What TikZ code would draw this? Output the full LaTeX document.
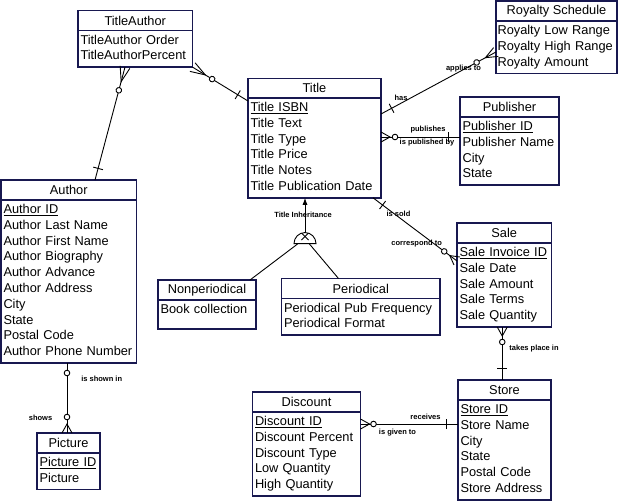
\documentclass[tikz,border=0pt]{standalone}
\usepackage{fontspec}
\setmainfont{Liberation Sans}
\usetikzlibrary{shapes.geometric,decorations.markings,arrows.meta,calc}
\definecolor{entnavy}{RGB}{24,24,80}

\tikzset{
  ent/.style={draw=entnavy, line width=1.6pt, anchor=north west, outer sep=0pt, font=\fontsize{12.8}{15.8}\selectfont},
  enthead/.style={ent, inner sep=0pt, minimum height=20pt},
  entbody/.style={ent, inner xsep=2.5pt, inner ysep=2.5pt, align=left, execute at begin node=\strut, execute at end node=\strut},
  rel/.style={font=\fontsize{7.5}{9}\selectfont\bfseries, inner sep=0pt},
  conn/.style={line width=0.9pt},
  crowfoot/.style={postaction={decorate, decoration={markings, mark=at position 0.01pt with {\draw (0pt,5pt) -- (#1,0pt) -- (0pt,-5pt);}}}},
  crowfoot/.default=9pt,
  zero at/.style={postaction={decorate, decoration={markings, mark=at position #1 with {\draw[fill=white] (0pt,0pt) circle (2.8pt);}}}},
  one at/.style={postaction={decorate, decoration={markings, mark=at position #1 with {\draw (0pt,-5pt) -- (0pt,5pt);}}}},
}

\begin{document}
\begin{tikzpicture}[x=1pt, y=-1pt]
        \useasboundingbox (0,0) rectangle (620,501);
        \node[enthead, minimum width=114.5pt] (taH) at (78,10.5) {TitleAuthor};
        \node[entbody, text width=109.5pt] (ta) at (taH.south west) {TitleAuthor Order\\TitleAuthorPercent};
        \node[enthead, minimum width=133pt, minimum height=19.5pt] (titleH) at (248,78.5) {Title};
        \node[entbody, text width=128pt] (title) at (titleH.south west) {\underline{Title ISBN}\\Title Text\\Title Type\\Title Price\\Title Notes\\Title Publication Date};
        \node[enthead, minimum width=121pt] (royH) at (496,1) {Royalty Schedule};
        \node[entbody, inner xsep=1.5pt, text width=118pt] (roy) at (royH.south west) {Royalty Low Range\\Royalty High Range\\Royalty Amount};
        \node[enthead, minimum width=99pt] (pubH) at (460,97) {Publisher};
        \node[entbody, text width=94pt] (pub) at (pubH.south west) {\underline{Publisher ID}\\Publisher Name\\City\\State};
        \node[enthead, minimum width=135.5pt] (authH) at (1,180) {Author};
        \node[entbody, text width=130.5pt] (auth) at (authH.south west) {\underline{Author ID}\\Author Last Name\\Author First Name\\Author Biography\\Author Advance\\Author Address\\City\\State\\Postal Code\\Author Phone Number};
        \node[enthead, minimum width=98pt] (nonH) at (158,280) {Nonperiodical};
        \node[entbody, text width=93pt, text depth=13pt] (non) at (nonH.south west) {Book collection};
        \node[enthead, minimum width=158.5pt] (perH) at (281.5,278.5) {Periodical};
        \node[entbody, text width=153.5pt] (per) at (perH.south west) {Periodical Pub Frequency\\Periodical Format};
        \node[enthead, minimum width=94.5pt] (saleH) at (457,223) {Sale};
        \node[entbody, text width=89.5pt] (sale) at (saleH.south west) {\underline{Sale Invoice ID}\\Sale Date\\Sale Amount\\Sale Terms\\Sale Quantity};
        \node[enthead, minimum width=63pt] (picH) at (37,433) {Picture};
        \node[entbody, text width=58pt] (pic) at (picH.south west) {\underline{Picture ID}\\Picture};
        \node[enthead, minimum width=108pt] (discH) at (252.5,392) {Discount};
        \node[entbody, text width=103pt] (disc) at (discH.south west) {\underline{Discount ID}\\Discount Percent\\Discount Type\\Low Quantity\\High Quantity};
        \node[enthead, minimum width=93pt] (storeH) at (458,380) {Store};
        \node[entbody, text width=88pt] (store) at (storeH.south west) {\underline{Store ID}\\Store Name\\City\\State\\Postal Code\\Store Address};

        \draw[conn, crowfoot=15pt, zero at=23pt, one at=-12pt] (ta.south east) -- ([yshift=-3pt]title.north west);
        \draw[conn, crowfoot=15pt, zero at=24pt, one at=-12pt] ([xshift=47pt]ta.south west) -- ([xshift=94pt]authH.north west);
        \draw[conn, crowfoot=12pt, zero at=22pt, one at=-12pt] ([yshift=-31pt]roy.north west) -- ([yshift=-16pt]title.north east);
        \coordinate (tp) at ([yshift=-39pt]title.north east);
        \draw[conn, crowfoot, zero at=14pt, one at=-12pt] (tp) -- (tp -| pub.west);
        \draw[conn, crowfoot, zero at=16pt, one at=-12pt] ([yshift=-18pt]sale.north west) -- ([xshift=-8pt]title.south east);
        \coordinate (pp) at ([xshift=30pt]picH.north west);
        \draw[conn, crowfoot, zero at=16pt, zero at=-10pt] (pp) -- (pp |- auth.south);
        \coordinate (ss) at ([xshift=-2pt]sale.south);
        \draw[conn, crowfoot, zero at=15pt, one at=-12pt] (ss) -- (ss |- storeH.north);
        \coordinate (ds) at ([yshift=-12pt]disc.north east);
        \draw[conn, crowfoot, zero at=13pt, one at=-12pt] (ds) -- (ds -| store.west);

        \node[draw, conn, semicircle, inner sep=0pt, minimum width=22pt, anchor=chord center] (inh) at (305,244) {};
        \draw[conn] ($(inh.chord center)+(-3.5,-4)$) -- ($(inh.chord center)+(3.5,-11)$);
        \draw[conn] ($(inh.chord center)+(-3.5,-11)$) -- ($(inh.chord center)+(3.5,-4)$);
        \draw[conn, -{Latex[length=7pt,width=5pt]}] (inh.apex) -- (inh.apex |- title.south);
        \draw[conn] ([xshift=4pt]inh.arc end) -- ([xshift=-6pt]nonH.north east);
        \draw[conn] ([xshift=-7pt]inh.arc start) -- ([xshift=57pt]perH.north west);

        \node[rel] (l1) at (463.5,69) {applies to};
        \node[rel] (l2) at (401,98) {has};
        \node[rel] (l3) at (428,130) {publishes};
        \node[rel] (l4) at (427,143) {is published by};
        \node[rel] (l5) at (398.5,214) {is sold};
        \node[rel] (l6) at (416.7,244) {correspond to};
        \node[rel] (l7) at (303,215) {Title Inheritance};
        \node[rel] (l8) at (101.7,379) {is shown in};
        \node[rel] (l9) at (40.5,418) {shows};
        \node[rel] (l10) at (534,349) {takes place in};
        \node[rel] (l11) at (425.5,417) {receives};
        \node[rel] (l12) at (397.5,433) {is given to};
\end{tikzpicture}
\end{document}
